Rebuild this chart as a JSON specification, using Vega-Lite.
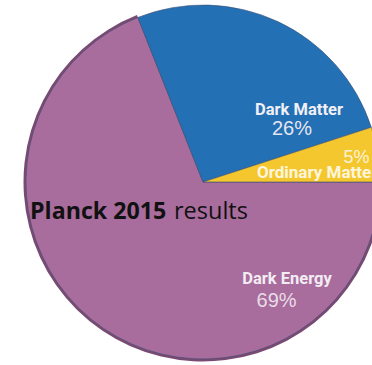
{
  "$schema": "https://vega.github.io/schema/vega-lite/v6.json",
  "width": 406,
  "height": 364,
  "autosize": "none",
  "padding": 0,
  "background": "white",
  "config": {"view": {"stroke": null}},
  "data": {
    "values": [
      {"component": "Dark Energy", "share": 0.69},
      {"component": "Dark Matter", "share": 0.26},
      {"component": "Ordinary Matter", "share": 0.05}
    ]
  },
  "layer": [
    {
      "transform": [{"filter": "datum.component === 'Dark Energy'"}],
      "mark": {"type": "arc", "outerRadius": 179.5, "color": "#7b4a72"},
      "encoding": {
        "theta": {"field": "share", "type": "quantitative", "stack": true,
                  "scale": {"domain": [0, 1], "range": [1.5708, 7.854]}}
      }
    },
    {
      "mark": {"type": "arc", "outerRadius": 177, "stroke": "#3a4f72", "strokeWidth": 0.6},
      "encoding": {
        "theta": {"field": "share", "type": "quantitative", "stack": true,
                  "scale": {"domain": [0, 1], "range": [1.5708, 7.854]}},
        "order": {"field": "share", "sort": "descending"},
        "color": {"field": "component", "type": "nominal", "legend": null,
                  "scale": {"domain": ["Dark Energy", "Dark Matter", "Ordinary Matter"],
                            "range": ["#a86c9d", "#2470b5", "#f5c72e"]}}
      }
    },
    {
      "transform": [{"filter": "datum.component === 'Dark Matter'"}],
      "mark": {"type": "text", "font": "Roboto", "fontWeight": "bold", "fontSize": 16.5, "fill": "#f2f0f6", "align": "center", "baseline": "alphabetic", "radius": 117},
      "encoding": {"theta": {"datum": 0.9031, "type": "quantitative"}, "text": {"field": "component"}}
    },
    {
      "transform": [{"filter": "datum.component === 'Dark Matter'"}],
      "mark": {"type": "text", "font": "Liberation Sans", "fontSize": 20, "fill": "#e6e4ee", "align": "center", "baseline": "alphabetic", "radius": 100.6},
      "encoding": {"theta": {"datum": 0.9228, "type": "quantitative"}, "text": {"field": "share", "format": ".0%"}}
    },
    {
      "transform": [{"filter": "datum.component === 'Ordinary Matter'"}],
      "mark": {"type": "text", "font": "Liberation Sans", "fontSize": 18, "fill": "#fbf3d6", "align": "center", "baseline": "alphabetic", "radius": 154.7},
      "encoding": {"theta": {"datum": 0.9803, "type": "quantitative"}, "text": {"field": "share", "format": ".0%"}}
    },
    {
      "transform": [{"filter": "datum.component === 'Ordinary Matter'"}],
      "mark": {"type": "text", "font": "Roboto", "fontWeight": "bold", "fontSize": 17, "fill": "#fdf6dc", "align": "left", "baseline": "alphabetic", "radius": 54.1},
      "encoding": {"theta": {"datum": 0.9884, "type": "quantitative"}, "text": {"field": "component"}}
    },
    {
      "transform": [{"filter": "datum.component === 'Dark Energy'"}],
      "mark": {"type": "text", "font": "Roboto", "fontWeight": "bold", "fontSize": 16.5, "fill": "#f3ecf3", "align": "center", "baseline": "alphabetic", "radius": 132.1},
      "encoding": {"theta": {"datum": 0.1403, "type": "quantitative"}, "text": {"field": "component"}}
    },
    {
      "transform": [{"filter": "datum.component === 'Dark Energy'"}],
      "mark": {"type": "text", "font": "Liberation Sans", "fontSize": 20, "fill": "#e8dce8", "align": "center", "baseline": "alphabetic", "radius": 145},
      "encoding": {"theta": {"datum": 0.1653, "type": "quantitative"}, "text": {"field": "share", "format": ".0%"}}
    },
    {
      "data": {"values": [{"label": "Planck 2015"}]},
      "mark": {"type": "text", "font": "Open Sans", "fontWeight": "bold", "fontSize": 23.2, "fill": "#111111", "align": "left", "baseline": "alphabetic", "radius": 176.9},
      "encoding": {"theta": {"datum": 0.4664, "type": "quantitative"}, "text": {"field": "label"}}
    },
    {
      "data": {"values": [{"label": "results"}]},
      "mark": {"type": "text", "font": "Open Sans", "fontSize": 23.5, "fill": "#111111", "align": "left", "baseline": "alphabetic", "radius": 47},
      "encoding": {"theta": {"datum": 0.3558, "type": "quantitative"}, "text": {"field": "label"}}
    }
  ]
}
